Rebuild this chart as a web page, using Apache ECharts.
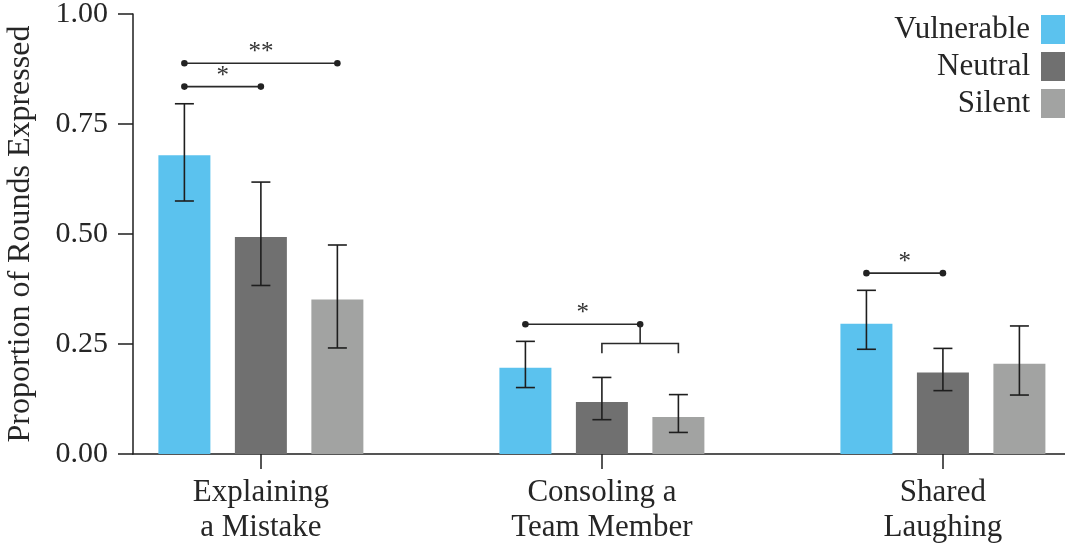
<!DOCTYPE html>
<html>
<head>
<meta charset="utf-8">
<script src="https://cdn.jsdelivr.net/npm/echarts@6/dist/echarts.min.js"></script>
<style>
html,body{margin:0;padding:0;background:#fff;overflow:hidden;}
#chart{width:1065px;height:543px;}
</style>
</head>
<body>
<div id="chart"></div>
<script>
const categories = ['Explaining\na Mistake', 'Consoling a\nTeam Member', 'Shared\nLaughing'];
const groups = ['Vulnerable', 'Neutral', 'Silent'];
const vulnerable = [0.679, 0.196, 0.296];
const vulnerableLow = [0.575, 0.151, 0.238];
const vulnerableHigh = [0.796, 0.256, 0.372];
const neutral = [0.493, 0.118, 0.185];
const neutralLow = [0.383, 0.078, 0.144];
const neutralHigh = [0.618, 0.174, 0.240];
const silent = [0.351, 0.084, 0.205];
const silentLow = [0.241, 0.049, 0.134];
const silentHigh = [0.475, 0.135, 0.291];
const yTicks = [0, 0.25, 0.5, 0.75, 1.0];
// significance brackets: category, from-group, to-group (1.5 = neutral+silent pooled), level
const bracketCat = [0, 0, 1, 2];
const bracketFrom = [0, 0, 0, 0];
const bracketTo = [1, 2, 1.5, 1];
const bracketY = [0.835, 0.888, 0.295, 0.411];
const bracketLabel = ['*', '**', '*', '*'];
const pooledY = [null, null, 0.251, null];
const pooledTickY = [null, null, 0.229, null];

const colors = ['#5BC2EE', '#707070', '#A2A3A2'];
const GROUP_OFF = 0.2243;
const BAR_W = 52;
const FONT = '"Liberation Serif", "Times New Roman", serif';
const TXT = '#262626';
const LINE = '#1e1e1e';

const values = [vulnerable, neutral, silent];
const lows = [vulnerableLow, neutralLow, silentLow];
const highs = [vulnerableHigh, neutralHigh, silentHigh];
const xOf = (c, g) => c + (g - 1) * GROUP_OFF;

const series = [];
groups.forEach((name, g) => {
  series.push({
    name: name,
    type: 'custom',
    color: colors[g],
    itemStyle: {color: colors[g]},
    z: 2,
    data: values[g].map((v, c) => [xOf(c, g), v]),
    encode: {x: 0, y: 1},
    renderItem: function (params, api) {
      const p0 = api.coord([api.value(0), 0]);
      const p1 = api.coord([api.value(0), api.value(1)]);
      return {
        type: 'rect',
        shape: {x: p0[0] - BAR_W / 2, y: p1[1], width: BAR_W, height: p0[1] - p1[1]},
        style: {fill: colors[g]}
      };
    }
  });
});
groups.forEach((name, g) => {
  series.push({
    name: name + ' error',
    type: 'custom',
    z: 5,
    silent: true,
    data: values[g].map((v, c) => [xOf(c, g), lows[g][c], highs[g][c]]),
    encode: {x: 0, y: [1, 2]},
    renderItem: function (params, api) {
      const lo = api.coord([api.value(0), api.value(1)]);
      const hi = api.coord([api.value(0), api.value(2)]);
      const hw = 9.5;
      const st = {stroke: LINE, lineWidth: 1.6};
      return {
        type: 'group',
        children: [
          {type: 'line', shape: {x1: lo[0], y1: lo[1], x2: hi[0], y2: hi[1]}, style: st},
          {type: 'line', shape: {x1: lo[0] - hw, y1: lo[1], x2: lo[0] + hw, y2: lo[1]}, style: st},
          {type: 'line', shape: {x1: hi[0] - hw, y1: hi[1], x2: hi[0] + hw, y2: hi[1]}, style: st}
        ]
      };
    }
  });
});
series.push({
  name: 'significance',
  type: 'custom',
  z: 6,
  silent: true,
  data: bracketCat.map((c, i) => [xOf(c, bracketFrom[i]), xOf(c, bracketTo[i]), bracketY[i], i]),
  encode: {x: [0, 1], y: 2},
  renderItem: function (params, api) {
    const i = api.value(3);
    const a = api.coord([api.value(0), api.value(2)]);
    const b = api.coord([api.value(1), api.value(2)]);
    const st = {stroke: '#2a2a2a', lineWidth: 1.6};
    const ch = [
      {type: 'line', shape: {x1: a[0], y1: a[1], x2: b[0], y2: b[1]}, style: st},
      {type: 'circle', shape: {cx: a[0], cy: a[1], r: 3.3}, style: {fill: '#222'}},
      {type: 'circle', shape: {cx: b[0], cy: b[1], r: 3.3}, style: {fill: '#222'}},
      {type: 'text', x: (a[0] + b[0]) / 2, y: a[1] + 2,
        style: {text: bracketLabel[i], font: '25px ' + FONT, fill: '#333', align: 'center', verticalAlign: 'bottom'}}
    ];
    if (pooledY[i] !== null) {
      const c = bracketCat[i];
      const l = api.coord([xOf(c, 1), pooledY[i]]);
      const r = api.coord([xOf(c, 2), pooledY[i]]);
      const lt = api.coord([xOf(c, 1), pooledTickY[i]]);
      ch.push({type: 'line', shape: {x1: b[0], y1: b[1], x2: b[0], y2: l[1]}, style: st});
      ch.push({type: 'polyline', shape: {points: [[l[0], lt[1]], [l[0], l[1]], [r[0], r[1]], [r[0], lt[1]]]}, style: {stroke: '#2a2a2a', lineWidth: 1.6, fill: null}});
    }
    return {type: 'group', children: ch};
  }
});

const chart = echarts.init(document.getElementById('chart'), null, {renderer: 'canvas'});
chart.setOption({
  animation: false,
  backgroundColor: '#fff',
  textStyle: {fontFamily: FONT},
  grid: {left: 133, right: 0, top: 14, bottom: 89, containLabel: false, outerBoundsMode: 'none'},
  legend: {
    orient: 'vertical',
    right: 0,
    top: 14,
    padding: 0,
    align: 'right',
    itemWidth: 24,
    itemHeight: 29,
    itemGap: 6,
    data: groups.map(n => ({name: n, icon: 'rect'})),
    textStyle: {fontFamily: FONT, fontSize: 31, color: TXT, padding: [0, 6, 0, 0]}
  },
  xAxis: {
    type: 'value',
    min: -0.375,
    max: 2.358,
    splitLine: {show: false},
    axisLine: {show: true, onZero: false, lineStyle: {color: LINE, width: 1.5}},
    axisTick: {show: true, length: 15, lineStyle: {color: LINE, width: 1.5}, customValues: [0, 1, 2]},
    axisLabel: {
      customValues: [0, 1, 2],
      formatter: v => categories[Math.round(v)],
      fontFamily: FONT, fontSize: 31, color: TXT, lineHeight: 35, margin: 21, align: 'center'
    }
  },
  yAxis: {
    type: 'value',
    min: 0,
    max: 1,
    interval: 0.25,
    name: 'Proportion of Rounds Expressed',
    nameLocation: 'middle',
    nameGap: 96,
    nameTextStyle: {fontFamily: FONT, fontSize: 32, color: TXT},
    splitLine: {show: false},
    axisLine: {show: true, onZero: false, lineStyle: {color: LINE, width: 1.5}},
    axisTick: {show: true, length: 15, lineStyle: {color: LINE, width: 1.5}},
    axisLabel: {formatter: v => v.toFixed(2), fontFamily: FONT, fontSize: 30, color: TXT, margin: 25}
  },
  series: series
});
</script>
</body>
</html>
